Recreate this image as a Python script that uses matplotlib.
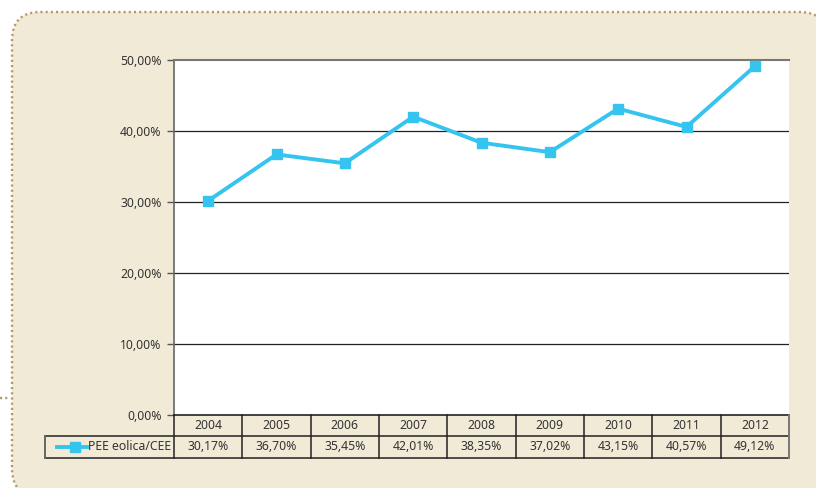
import matplotlib

matplotlib.use("Agg")
import matplotlib.pyplot as plt
from matplotlib.patches import FancyBboxPatch
from matplotlib.lines import Line2D

years = ["2004", "2005", "2006", "2007", "2008", "2009", "2010", "2011", "2012"]
share = [30.17, 36.70, 35.45, 42.01, 38.35, 37.02, 43.15, 40.57, 49.12]
series_name = "PEE eolica/CEE"
y_ticks = [0, 10, 20, 30, 40, 50]

BG = "#f1ead6"
BORDER = "#b39970"
LINE = "#35c3f0"
TEXT = "#333333"
FONT = "Noto Sans"
FS = 8.8

W, H = 816, 488
fig = plt.figure(figsize=(W / 100, H / 100), dpi=100)
fig.patch.set_facecolor("white")


def fx(px):
    return px / W


def fy(py):
    return 1 - py / H


# rounded dotted panel behind everything
panel = FancyBboxPatch(
    (fx(12), fy(497)), fx(828) - fx(12), fy(12) - fy(497),
    boxstyle="round,pad=0,rounding_size=0.035",
    transform=fig.transFigure, facecolor=BG, edgecolor=BORDER,
    linewidth=1.7, linestyle=(0, (0.9, 1.3)), mutation_aspect=W / H, zorder=-10,
)
fig.patches.append(panel)
fig.add_artist(Line2D([fx(0), fx(10)], [fy(398), fy(398)], transform=fig.transFigure,
                      color=BORDER, linewidth=1.7, linestyle=(0, (0.9, 1.3)), zorder=-9))

left, right, top, bottom = 174, 789, 60, 415
ax = fig.add_axes([fx(left), fy(bottom), fx(right) - fx(left), fy(top) - fy(bottom)])
ax.set_zorder(1)
ax.set_facecolor("white")

x = list(range(len(years)))
ax.plot(x, share, color=LINE, linewidth=2.8, marker="s", markersize=7.5,
        markerfacecolor=LINE, markeredgecolor=LINE, zorder=3, clip_on=False)

ax.set_xlim(-0.5, len(years) - 0.5)
ax.set_ylim(0, 50)
ax.set_yticks(y_ticks)
ax.set_yticklabels([f"{v:.2f}%".replace(".", ",") for v in y_ticks],
                   fontsize=FS, color=TEXT, family=FONT)
ax.set_xticks([])
ax.tick_params(axis="y", length=5, width=1, color="#555555", pad=4)
for v in y_ticks[1:-1]:
    ax.axhline(v, color="#222222", linewidth=0.9, zorder=1)
ax.spines["top"].set_color("#777777")
ax.spines["top"].set_linewidth(1.5)
ax.spines["left"].set_color("#666666")
ax.spines["left"].set_linewidth(1.2)
ax.spines["right"].set_visible(False)
ax.spines["bottom"].set_color("#222222")
ax.spines["bottom"].set_linewidth(1.2)

# data table under the axis, drawn in figure pixels
row1, row2, row3 = 415, 436, 458
col_w = (right - left) / len(years)
legend_left = 45


def hline(x0, x1, y, color="#222222", lw=1.1):
    fig.add_artist(Line2D([fx(x0), fx(x1)], [fy(y), fy(y)], transform=fig.transFigure,
                          color=color, linewidth=lw))


def vline(x0, y0, y1, color="#222222", lw=1.1):
    fig.add_artist(Line2D([fx(x0), fx(x0)], [fy(y0), fy(y1)], transform=fig.transFigure,
                          color=color, linewidth=lw))


hline(legend_left, right, row2)
hline(legend_left, right, row3)
vline(legend_left, row2, row3, color="#666666", lw=1.4)
for i in range(len(years) + 1):
    xc = left + i * col_w
    last = i == len(years)
    vline(xc, row1, row3, color="#777777" if last else "#222222", lw=1.4 if last else 1.1)

for i, (yr, val) in enumerate(zip(years, share)):
    cx = left + (i + 0.5) * col_w
    fig.text(fx(cx), fy((row1 + row2) / 2), yr, ha="center", va="center",
             fontsize=FS, color=TEXT, family=FONT)
    fig.text(fx(cx), fy((row2 + row3) / 2), f"{val:.2f}%".replace(".", ","),
             ha="center", va="center", fontsize=FS, color=TEXT, family=FONT)

# legend key in the first cell
ky = (row2 + row3) / 2
fig.add_artist(Line2D([fx(57), fx(87)], [fy(ky), fy(ky)], transform=fig.transFigure,
                      color=LINE, linewidth=2.8))
fig.add_artist(Line2D([fx(75)], [fy(ky)], transform=fig.transFigure, color=LINE,
                      marker="s", markersize=7.5, linestyle="none"))
fig.text(fx(88), fy(ky), series_name, ha="left", va="center",
         fontsize=FS, color=TEXT, family=FONT)

fig.savefig("out.png", dpi=100, facecolor=fig.get_facecolor())
